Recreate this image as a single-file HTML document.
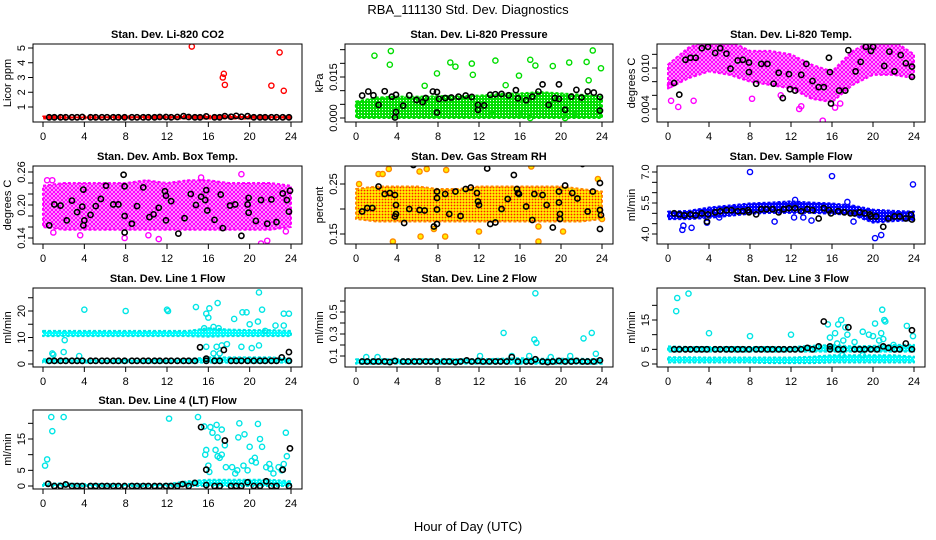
<!DOCTYPE html>
<html><head><meta charset="utf-8"><style>
body{margin:0;background:#fff}
svg{display:block;font-family:"Liberation Sans",sans-serif}
</style></head><body>
<svg id="chart" width="936" height="540" viewBox="0 0 936 540" xmlns="http://www.w3.org/2000/svg">
<defs>
<pattern id="pat-red" width="3" height="3" patternUnits="userSpaceOnUse"><rect width="3" height="3" fill="#ff0000"/><circle cx="1.5" cy="1.5" r="0.6" fill="#fff"/></pattern>
<pattern id="pat-green" width="3" height="3" patternUnits="userSpaceOnUse"><rect width="3" height="3" fill="#00dd00"/><circle cx="1.5" cy="1.5" r="0.6" fill="#fff"/></pattern>
<pattern id="pat-magenta" width="4" height="4" patternUnits="userSpaceOnUse"><rect width="4" height="4" fill="#fff"/><circle cx="2" cy="2" r="1.5" fill="none" stroke="#ff00ff" stroke-width="1.3"/></pattern>
<pattern id="pat-orange" width="3" height="3" patternUnits="userSpaceOnUse"><rect width="3" height="3" fill="#ffee00"/><circle cx="1.5" cy="1.5" r="0.9" fill="#ff2000"/></pattern>
<pattern id="pat-blue" width="3" height="3" patternUnits="userSpaceOnUse"><rect width="3" height="3" fill="#0000ff"/><circle cx="1.5" cy="1.5" r="0.5" fill="#fff"/></pattern>
<pattern id="pat-cyan" width="3" height="3" patternUnits="userSpaceOnUse"><rect width="3" height="3" fill="#00ffff"/><circle cx="1.5" cy="1.5" r="0.5" fill="#fff"/></pattern>
</defs>
<text x="468" y="14" font-size="13" text-anchor="middle">RBA_111130  Std. Dev. Diagnostics</text>
<text x="468" y="531" font-size="13" text-anchor="middle">Hour of Day (UTC)</text>
</svg>
<script>
const bandHours=[0,2,4,6,8,10,12,14,16,18,20,22,24];
const xTicks=[0,4,8,12,16,20,24];

// Panel 1: Li-820 CO2
const p1Lo=[.22,.22,.22,.22,.22,.22,.22,.22,.22,.22,.22,.22,.22];
const p1Hi=[.36,.36,.36,.37,.37,.38,.38,.4,.4,.4,.4,.38,.37];
const p1OutX=[14.4,17.4,17.5,17.6,22.1,22.9,23.3];
const p1OutY=[5.1,3.0,3.25,2.5,2.45,4.7,2.1];
const p1BlkX=[0.6,1.1,1.7,2.2,2.8,3.3,3.8,4.6,5.1,5.7,6.2,6.8,7.3,7.9,8.6,9.1,9.7,10.2,10.8,11.3,11.9,12.4,13.0,13.6,14.1,14.7,15.2,15.8,16.6,17.1,17.6,18.2,18.7,19.2,19.8,20.4,21.0,21.5,22.1,22.6,23.2,23.8];
const p1BlkY=[.3,.3,.3,.3,.3,.3,.32,.3,.3,.3,.3,.3,.3,.3,.3,.3,.3,.3,.3,.32,.32,.3,.32,.38,.32,.3,.3,.36,.3,.3,.38,.34,.4,.34,.38,.3,.3,.3,.3,.3,.3,.3];

// Panel 2: Li-820 Pressure
const p2Lo=[0,0,0,0,0,0,0,0,0,0,0,0,0];
const p2Hi=[.006,.0075,.0078,.0078,.008,.008,.0082,.0088,.009,.0095,.009,.0085,.008];
const p2OutX=[0.2,1.8,3.4,3.3,7.9,6.7,9.2,9.7,11.3,11.4,13.6,14.6,15.9,17.0,17.5,19.2,20.8,22.5,22.7,23.1,23.9,15.8,13.3,17.0,20.4,21.5];
const p2OutY=[.0045,.0228,.0245,.0195,.0163,.0118,.0203,.0188,.0199,.0158,.021,.012,.0155,.0213,.0192,.019,.0203,.0205,.0138,.0247,.0182,.0015,.0012,0,0,.0015];
const p2BlkX=[0.6,1.2,1.7,2.2,2.8,3.5,3.9,3.9,3.8,4.6,5.2,5.9,6.5,6.8,7.5,7.9,7.9,8.1,8.7,9.3,10.0,10.7,11.3,11.9,11.9,12.5,13.1,13.6,14.2,14.9,15.6,15.8,16.6,17.2,17.8,18.2,18.8,19.4,19.8,19.8,20.4,21.0,21.5,22.0,22.6,23.2,23.8,23.8];
const p2BlkY=[.0082,.0097,.0083,.0048,.0098,.0078,.0085,.0022,.0002,.0045,.0083,.0066,.0058,.0073,.0097,.0095,.002,.007,.0073,.0075,.0078,.0082,.0077,.0048,.003,.0046,.0085,.0087,.0088,.0083,.0102,.0072,.0065,.0078,.0097,.0123,.0048,.0073,.0123,.007,.003,.0078,.0103,.0075,.0097,.0093,.0077,.0027];

// Panel 3: Li-820 Temp
const p3Lo=[.007,.0085,.0095,.009,.008,.0075,.007,.0055,.005,.0075,.009,.009,.0085];
const p3Hi=[.0105,.013,.014,.014,.0125,.0125,.012,.0105,.0095,.0125,.014,.014,.012];
const p3OutX=[1.0,0.3,2.5,13,15.1,15.2,12.8,16.3,11,8.2,16.8,0.2];
const p3OutY=[.0043,.0052,.0052,.0044,.0023,.0015,.004,.0042,.006,.0055,.0048,.0075];
const p3BlkX=[0.6,1.1,1.7,2.2,2.7,3.3,3.9,4.6,5.1,5.7,6.1,6.8,7.3,7.9,7.9,8.6,9.1,9.7,10.3,10.8,11.2,11.8,11.9,12.4,13,13.5,14.1,14.7,15.2,15.7,15.8,15.9,16.7,17.3,17.6,18.3,18.8,19.3,19.8,20,21.1,21.6,22.1,22.7,23.2,23.8,23.8];
const p3BlkY=[.0078,.0061,.0112,.0115,.0115,.0129,.0131,.0122,.0129,.0121,.0099,.0111,.0112,.0108,.0094,.0077,.0106,.0106,.0077,.0093,.0056,.0091,.0069,.0067,.009,.0106,.0081,.0072,.0072,.0115,.0094,.0048,.0067,.0067,.0126,.0095,.0109,.0131,.0125,.0131,.0103,.0124,.0095,.0119,.0107,.0102,.0087];

// Panel 4: Amb. Box Temp
const p4Lo=[.16,.155,.155,.155,.155,.155,.155,.155,.155,.155,.155,.155,.16];
const p4Hi=[.235,.24,.24,.24,.24,.245,.24,.245,.245,.24,.24,.24,.235];
const p4OutX=[0.4,0.9,7.9,21.1,21.7,19.2,15.3,23.5,1.0,10.2,11.2,3.6];
const p4OutY=[.245,.245,.14,.13,.135,.256,.25,.152,.15,.145,.138,.145];
const p4BlkX=[0.6,1.1,1.7,2.3,2.8,3.3,3.8,3.9,3.9,4,4.6,5.1,5.6,6.1,6.8,7.3,7.8,7.9,7.9,7.9,8.6,9.1,9.7,10.3,10.7,11.2,11.8,11.9,11.9,12.4,13.1,13.7,14.3,14.8,15.3,15.7,15.8,15.9,16.6,17.2,17.4,18.1,18.6,19.2,19.8,19.9,19.9,20.6,21.1,21.7,22.1,22.6,23.2,23.6,23.8,23.9];
const p4BlkY=[.163,.201,.199,.172,.208,.187,.197,.163,.228,.172,.182,.198,.211,.235,.201,.201,.255,.234,.18,.15,.166,.198,.232,.178,.183,.195,.225,.217,.172,.207,.148,.176,.22,.2,.215,.209,.227,.19,.173,.219,.158,.199,.201,.144,.201,.213,.186,.171,.209,.166,.21,.169,.221,.209,.188,.226];

// Panel 5: Gas Stream RH
const p5Lo=[.18,.175,.175,.175,.175,.175,.175,.175,.175,.175,.175,.175,.18];
const p5Hi=[.24,.245,.245,.245,.24,.24,.245,.245,.245,.245,.245,.24,.235];
const p5OutX=[0.3,2.2,2.6,3.2,6.2,6.9,8.8,7.6,3.6,6.3,8.7,12.0,17.1,17.8,17.8,20.2,23.6,24];
const p5OutY=[.25,.27,.27,.28,.275,.28,.278,.16,.135,.145,.145,.155,.285,.135,.165,.155,.26,.18];
const p5BlkX=[0.6,1.1,1.6,2.2,2.8,3.3,3.8,3.9,3.9,3.8,4.7,5.2,5.6,6.2,6.7,7.6,7.9,7.9,7.9,7.9,8.7,9.1,9.7,10.2,10.7,11.2,11.8,11.9,12,12.8,13.1,13.6,14.2,14.8,15.4,15.7,15.8,15.9,16.6,17.2,17.4,18.2,18.6,19.2,19.8,19.8,19.9,19.9,20.4,21.1,21.6,22.1,22.6,23.1,23.8,23.8,23.9,23.8];
const p5BlkY=[.195,.202,.202,.245,.23,.232,.228,.208,.19,.185,.172,.2,.288,.198,.197,.165,.235,.222,.199,.17,.23,.19,.235,.186,.24,.243,.232,.215,.208,.281,.17,.173,.2,.22,.268,.24,.232,.23,.205,.178,.23,.228,.208,.163,.235,.213,.19,.18,.247,.232,.221,.29,.195,.235,.252,.198,.188,.16];

// Panel 6: Sample Flow
const p6Lo=[4.72,4.72,4.78,4.88,4.98,5.02,5.02,5.02,4.98,4.92,4.55,4.62,4.68];
const p6Hi=[5.08,5.12,5.28,5.38,5.48,5.52,5.58,5.52,5.48,5.38,5.18,5.12,5.08];
const p6OutX=[8.0,16.0,23.9,20.2,20.8,1.4,2.3,1.5,10.4,12.3,13.2,14.0,18.1,3.8,5.0,12.4,17.5];
const p6OutY=[7.0,6.8,6.4,3.8,3.95,4.2,4.3,4.4,4.6,4.8,4.8,4.65,4.6,4.55,4.8,5.65,5.55];
const p6BlkX=[0.6,1.1,1.6,2.2,2.7,3.3,3.9,3.8,4.6,5.1,5.7,6.2,6.8,7.3,7.8,7.9,8.6,9.1,9.6,10.2,10.8,11.3,11.8,12.4,13,13.6,14.1,14.7,15.2,15.7,15.9,16.6,17.2,17.8,18.2,18.7,19.2,19.7,19.8,20.3,21,21.5,22.1,22.6,23.2,23.7,23.8];
const p6BlkY=[5.0,4.95,4.9,4.95,4.9,5.0,4.95,4.6,5.05,5.1,5.15,5.15,5.1,5.1,5.15,5.05,4.95,5.2,5.2,5.2,5.05,5.2,5.25,5.25,5.1,5.2,5.15,4.75,5.25,5.15,5.0,5.1,5.05,5.0,5.0,5.05,5.0,4.95,4.85,4.85,4.35,4.75,4.85,4.85,4.75,4.95,4.7];

// Panel 7: Line 1 Flow
const p7Lo=[10.5,10.5,10.5,10.5,10.5,10.5,10.5,10.5,10.3,10.5,10.5,10.5,10.5];
const p7Hi=[12.5,12.5,12.5,12.5,12.5,12.5,12.5,12.5,13.5,13,12.8,12.8,12.5];
const p7Lo2=[0.5,0.5,0.5,0.5,0.5,0.5,0.5,0.5,0.5,0.5,0.5,0.5,0.5];
const p7Hi2=[1.8,1.8,1.6,1.6,1.6,1.6,1.6,1.8,2.5,2.5,2.5,2.5,2];
const p7OutX=[4,8,12,12.1,14.8,15.8,16,16.1,16.9,15.6,16.5,17,18.5,19.3,19.7,20.9,20.8,21.2,20,23.3,23.8,23.3,2.1,0.9,1,2,3.5,16.8,17.3,16.5,17.1,19.2,20.2,20.9,21.5,22.5,17.8,15.8];
const p7OutY=[20.5,20,20.5,20,21.5,19,17.5,21,23,13.5,14,13.5,17,19.5,19.5,27,16,20.5,15,19,19,14.5,9,4,3.5,4.5,3,6.5,7,4,4,6.5,6,7,12.5,14.5,7.5,6.5];
const p7BlkX=[0.6,1.1,1.7,2.2,2.8,3.3,3.8,4.6,5.1,5.7,6.2,6.8,7.3,7.9,8.6,9.1,9.7,10.2,10.8,11.3,11.9,12.4,13.0,13.6,14.1,14.7,15.2,15.8,15.8,16.6,17.1,17.5,18.2,18.7,19.2,19.8,20.4,21.0,21.5,22.1,22.6,23.1,23.8,23.8];
const p7BlkY=[1.2,1.2,1.2,1.2,1.2,1.2,1.2,1.2,1.2,1.2,1.2,1.2,1.2,1.2,1.2,1.2,1.2,1.2,1.2,1.2,1.2,1.2,1.2,1.2,1.2,1.2,6.3,2,1.2,1.2,1.2,5.3,1.2,1.2,1.2,1.2,1.2,1.2,1.2,1.2,1.2,2.5,4.5,1.2];

// Panel 8: Line 2 Flow
const p8Lo=[.03,.03,.03,.03,.03,.03,.03,.03,.03,.03,.03,.03,.03];
const p8Hi=[.07,.07,.07,.07,.07,.07,.07,.075,.08,.075,.075,.075,.07];
const p8OutX=[17.5,14.4,17.4,17.6,22.2,23,23.4,12.1,2.1,1,15.2,16.9,19.0,20.9];
const p8OutY=[.67,.31,.25,.22,.26,.31,.12,.1,.09,.09,.1,.1,.09,.1];
const p8BlkX=[0.6,1.1,1.7,2.2,2.8,3.3,3.8,4.6,5.1,5.7,6.2,6.8,7.3,7.9,8.6,9.1,9.7,10.2,10.8,11.3,11.9,12.4,13.0,13.6,14.1,14.7,15.2,15.8,16.6,17.1,17.5,18.2,18.7,19.2,19.8,20.4,21.0,21.5,22.1,22.6,23.2,23.8];
const p8BlkY=[.05,.05,.05,.05,.05,.045,.055,.05,.05,.05,.05,.05,.05,.05,.05,.05,.045,.05,.06,.05,.055,.05,.05,.05,.05,.05,.09,.05,.05,.05,.07,.05,.045,.05,.055,.05,.05,.055,.05,.05,.05,.06];

// Panel 9: Line 3 Flow
const p9Lo=[0.5,0.5,0.5,0.5,0.5,0.3,0.3,0.3,0.5,0.5,0.5,0.5,0.5];
const p9Hi=[2.3,2.3,2.2,2.2,2.2,2.2,2.2,2.5,3,3,3,3,2.5];
const p9Lo2=[4.2,4.2,4.2,4.2,4.2,4.2,4.2,4.2,4.2,4.2,4.2,4.2,4.2];
const p9Hi2=[6,5.8,5.8,5.8,5.8,5.8,5.8,6.2,6.5,6,6.2,6.5,6.5];
const p9OutX=[0.9,0.8,2.0,4.0,8.0,12.0,15.6,15.8,16.3,16.5,16.6,16.9,17.1,17.3,17.5,18.2,19,19.6,20,20.2,20.6,20.8,20.9,21.1,21.2,21.0,22,23.3,23.9,17,19];
const p9OutY=[22.5,18,24,10.5,9.5,10,13.5,9,10.5,7,13.5,15,8,12.5,10,7.5,11,10,9.5,13.8,8,10.5,18.5,15,14.5,8.5,6.5,13,9.5,3,3];
const p9BlkX=[0.6,1.1,1.7,2.2,2.8,3.3,3.8,4.6,5.1,5.7,6.2,6.8,7.3,7.9,8.6,9.1,9.7,10.2,10.8,11.3,11.9,12.4,13.0,13.6,14.1,14.7,15.2,15.8,15.8,16.6,17.1,17.6,18.2,18.7,19.2,19.8,20.4,21.0,21.5,22.1,22.6,23.2,23.8,23.8];
const p9BlkY=[5,5,5,5,5,5,5,5,5,5,5,5,5,5,5,5,5,5,5,5,5,5,5,5.5,5,6,14.5,6,5,5,5,12.5,5,5,5,5,5,6,5.5,5,5,7,11.5,5];

// Panel 10: Line 4 (LT) Flow
const p10Lo=[0,0,0,0,0,0,0,0,0,0,0,0,0];
const p10Hi=[0.8,0.8,0.6,0.6,0.6,0.6,0.6,1.5,2,2,2,2,1.5];
const p10OutX=[0.8,2,12.2,15,0.9,0.4,0.2,15.6,16.2,16.8,16.4,17.3,16.9,19,20.8,18.9,19.5,21.0,15.8,15.7,16.7,17.6,16.9,17.1,17.3,16,16.1,17.7,18.3,18.6,18.8,19.4,19.8,20.2,20.5,20.6,20.0,21.2,21.6,21.9,22.0,22.3,22.8,23.3,23.5,23.6,23.1];
const p10OutY=[22,22,21.5,22,17.5,8.5,6.5,19,18.8,19.5,17,18,15.5,20,19.8,15.5,16.5,15,11.5,10,11.5,13,9.5,9,10,6.5,4.5,6,6,4,5,6.5,5,8,9,7.5,12.5,12.5,6,7,5.5,4,6,7,17,9.5,5];
const p10BlkX=[0.5,1.1,1.7,2.2,2.8,3.3,3.8,4.6,5.1,5.7,6.2,6.8,7.3,7.9,8.6,9.1,9.7,10.2,10.8,11.3,11.9,12.4,13.0,13.5,14.1,14.7,15.3,15.8,15.8,16.6,17.1,17.6,18.2,18.7,19.2,19.8,20.4,21.0,21.6,22.1,22.6,23.2,23.9,23.8];
const p10BlkY=[0.7,0,0,0.5,0,0,0,0,0,0,0,0,0,0,0,0,0,0,0,0,0,0,0,0.6,0,1,18.8,5.2,0.3,0,0,14.5,0,0,0,1.2,0,0,1.5,0,0,5.2,12,0];

const colLeft=[33,345,657], colRight=[302,613,925], colX0=[43,356,668], colX24=[291,602,914];
const rowTop=[44,166,288,410], rowBottom=[122,244,367,489];

const panels=[
 {id:'co2',c:0,r:0,title:'Stan. Dev. Li-820 CO2',ylab:'Licor ppm',ref:[1,107,5,48],ticks:[1,2,3,4,5],labels:[1,2,3,4,5],fmt:v=>String(v),col:'#ff0000',pat:'pat-red',bands:[[p1Lo,p1Hi]],ox:p1OutX,oy:p1OutY,bx:p1BlkX,by:p1BlkY},
 {id:'pressure',c:1,r:0,title:'Stan. Dev. Li-820 Pressure',ylab:'kPa',ref:[0,118,0.015,77],ticks:[0,0.005,0.01,0.015,0.02,0.025],labels:[0,0.015],fmt:v=>v.toFixed(3),col:'#00dd00',pat:'pat-green',bands:[[p2Lo,p2Hi]],ox:p2OutX,oy:p2OutY,bx:p2BlkX,by:p2BlkY},
 {id:'li820-temp',c:2,r:0,title:'Stan. Dev. Li-820 Temp.',ylab:'degrees C',ref:[0.004,109,0.010,68],ticks:[0.004,0.006,0.008,0.010,0.012],labels:[0.004,0.010],fmt:v=>v.toFixed(3),col:'#ff00ff',pat:'pat-magenta',bands:[[p3Lo,p3Hi]],ox:p3OutX,oy:p3OutY,bx:p3BlkX,by:p3BlkY},
 {id:'amb-box-temp',c:0,r:1,title:'Stan. Dev. Amb. Box Temp.',ylab:'degrees C',ref:[0.14,238,0.26,172],ticks:[0.14,0.16,0.18,0.20,0.22,0.24,0.26],labels:[0.14,0.20,0.26],fmt:v=>v.toFixed(2),col:'#ff00ff',pat:'pat-magenta',bands:[[p4Lo,p4Hi]],ox:p4OutX,oy:p4OutY,bx:p4BlkX,by:p4BlkY},
 {id:'gas-stream-rh',c:1,r:1,title:'Stan. Dev. Gas Stream RH',ylab:'percent',ref:[0.15,234,0.25,184],ticks:[0.15,0.20,0.25],labels:[0.15,0.25],fmt:v=>v.toFixed(2),col:'#ff8800',pat:'pat-orange',fill:'#ffee00',bands:[[p5Lo,p5Hi]],ox:p5OutX,oy:p5OutY,bx:p5BlkX,by:p5BlkY},
 {id:'sample-flow',c:2,r:1,title:'Stan. Dev. Sample Flow',ylab:'ml/min',ref:[4,234,7,172],ticks:[4,4.5,5,5.5,6,6.5,7],labels:[4,5.5,7],fmt:v=>v.toFixed(1),col:'#0000ff',pat:'pat-blue',bands:[[p6Lo,p6Hi]],ox:p6OutX,oy:p6OutY,bx:p6BlkX,by:p6BlkY},
 {id:'line1-flow',c:0,r:2,title:'Stan. Dev. Line 1 Flow',ylab:'ml/min',ref:[0,364,20,311],ticks:[0,5,10,15,20,25],labels:[0,10,20],fmt:v=>String(v),col:'#00e5e5',pat:'pat-cyan',bands:[[p7Lo,p7Hi],[p7Lo2,p7Hi2]],ox:p7OutX,oy:p7OutY,bx:p7BlkX,by:p7BlkY},
 {id:'line2-flow',c:1,r:2,title:'Stan. Dev. Line 2 Flow',ylab:'ml/min',ref:[0.1,356,0.5,312],ticks:[0.1,0.2,0.3,0.4,0.5,0.6],labels:[0.1,0.3,0.5],fmt:v=>v.toFixed(1),col:'#00e5e5',pat:'pat-cyan',bands:[[p8Lo,p8Hi]],ox:p8OutX,oy:p8OutY,bx:p8BlkX,by:p8BlkY},
 {id:'line3-flow',c:2,r:2,title:'Stan. Dev. Line 3 Flow',ylab:'ml/min',ref:[0,364,15,320],ticks:[0,5,10,15,20],labels:[0,5,15],fmt:v=>String(v),col:'#00e5e5',pat:'pat-cyan',bands:[[p9Lo,p9Hi],[p9Lo2,p9Hi2]],ox:p9OutX,oy:p9OutY,bx:p9BlkX,by:p9BlkY},
 {id:'line4-flow',c:0,r:3,title:'Stan. Dev. Line 4 (LT) Flow',ylab:'ml/min',ref:[0,486,15,439],ticks:[0,5,10,15,20],labels:[0,5,15],fmt:v=>String(v),col:'#00e5e5',pat:'pat-cyan',bands:[[p10Lo,p10Hi]],ox:p10OutX,oy:p10OutY,bx:p10BlkX,by:p10BlkY}
];

const NS='http://www.w3.org/2000/svg';
const svg=document.getElementById('chart');
function mk(tag,attrs,parent){const e=document.createElementNS(NS,tag);for(const k in attrs)e.setAttribute(k,attrs[k]);(parent||svg).appendChild(e);return e;}

panels.forEach(p=>{
  const L=colLeft[p.c],R=colRight[p.c],T=rowTop[p.r],B=rowBottom[p.r];
  const xs=h=>colX0[p.c]+(colX24[p.c]-colX0[p.c])*h/24;
  const ys=v=>p.ref[1]+(v-p.ref[0])*(p.ref[3]-p.ref[1])/(p.ref[2]-p.ref[0]);
  const g=mk('g',{});
  
  
  const cp=mk('clipPath',{id:'clip-'+p.id},g);
  mk('rect',{x:L,y:T,width:R-L,height:B-T},cp);
  const plot=mk('g',{'clip-path':'url(#clip-'+p.id+')'},g);
  p.bands.forEach((bd,bi)=>{
    let pts=bandHours.map((h,i)=>xs(h)+','+ys(bd[1][i]));
    pts=pts.concat(bandHours.map((h,i)=>xs(h)+','+ys(bd[0][i])).reverse());
    const poly=mk('polygon',{points:pts.join(' '),fill:'url(#'+p.pat+')',stroke:p.col,'stroke-width':2,'stroke-dasharray':'3 2','stroke-linejoin':'round'},plot);
    
    
  });
  p.ox.forEach((h,i)=>{
    const c=mk('circle',{cx:xs(h),cy:ys(p.oy[i]),r:2.6,fill:p.fill||'none',stroke:p.col,'stroke-width':1.4},plot);
    
    
  });
  p.bx.forEach((h,i)=>{
    const c=mk('circle',{cx:xs(h),cy:ys(p.by[i]),r:2.6,fill:'none',stroke:'#000','stroke-width':1.6},plot);
    
    
  });
  const box=mk('rect',{x:L,y:T,width:R-L,height:B-T,fill:'none',stroke:'#000','stroke-width':1},g);
  
  
  const t=mk('text',{x:(L+R)/2,y:T-6,'font-size':11,'font-weight':'bold','text-anchor':'middle'},g);
  t.textContent=p.title;
  
  
  const yl=mk('text',{x:0,y:0,'font-size':11,'text-anchor':'middle',transform:'translate('+(L-22)+','+((T+B)/2)+') rotate(-90)'},g);
  yl.textContent=p.ylab;
  
  
  mk('line',{x1:xs(0),x2:xs(24),y1:B,y2:B,stroke:'#000'},g);
  xTicks.forEach(h=>{
    mk('line',{x1:xs(h),x2:xs(h),y1:B,y2:B+5,stroke:'#000'},g);
    const tx=mk('text',{x:xs(h),y:B+18,'font-size':11,'text-anchor':'middle'},g);
    tx.textContent=String(h);
    
    
  });
  const yt=p.ticks.filter(v=>ys(v)>=T-1&&ys(v)<=B+1);
  mk('line',{x1:L,x2:L,y1:ys(yt[0]),y2:ys(yt[yt.length-1]),stroke:'#000'},g);
  p.ticks.forEach(v=>{
    const y=ys(v); if(y<T-1||y>B+1)return;
    mk('line',{x1:L-5,x2:L,y1:y,y2:y,stroke:'#000'},g);
  });
  p.labels.forEach(v=>{
    const y=ys(v);
    const tl=mk('text',{x:0,y:0,'font-size':11,'text-anchor':'middle',transform:'translate('+(L-8)+','+y+') rotate(-90)'},g);
    tl.textContent=p.fmt(v);
    
    
  });
});
</script>
</body></html>
